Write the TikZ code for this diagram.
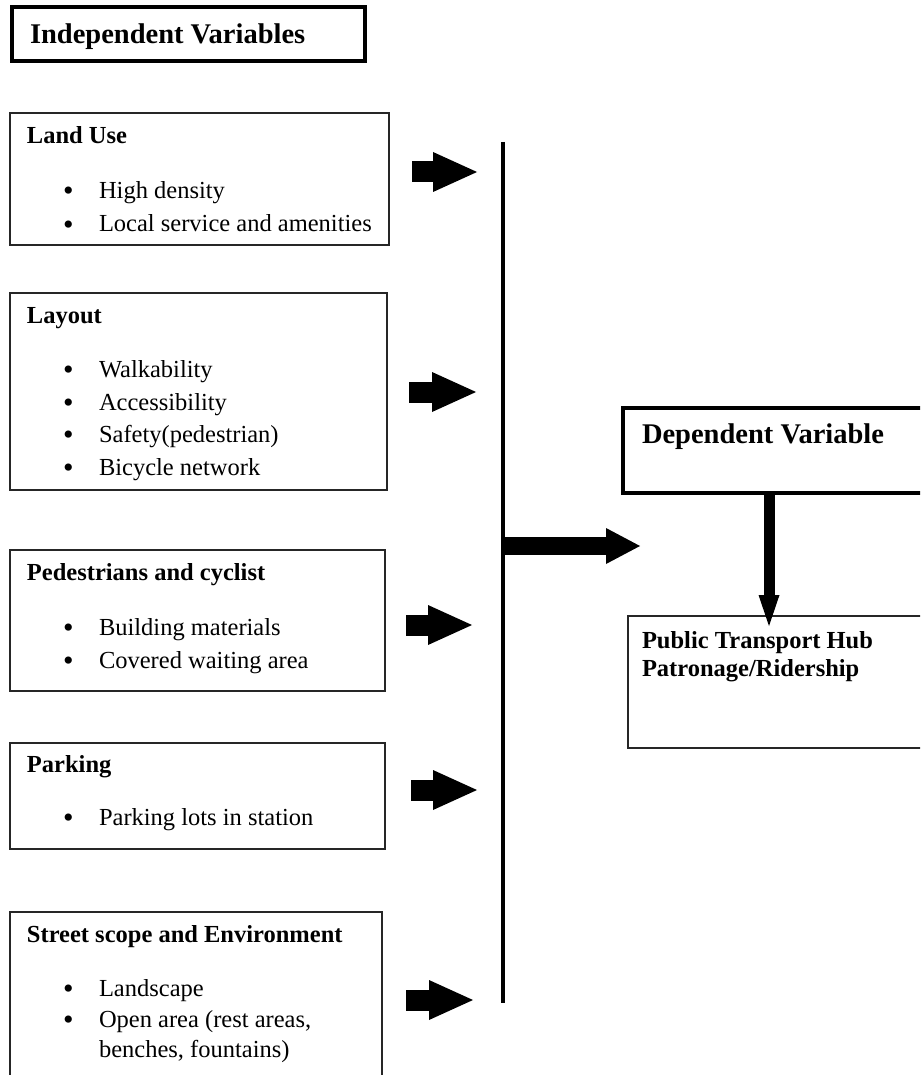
\documentclass[tikz,border=0pt]{standalone}
\usepackage{fontspec}
\setmainfont{Liberation Serif}
\usetikzlibrary{arrows.meta}
\begin{document}
\begin{tikzpicture}[x=1pt,y=-1pt,
  box/.style={draw=black!85, line width=1.5pt, inner sep=0pt, outer sep=0pt, anchor=north west},
  thickbox/.style={draw=black, line width=4pt, inner sep=0pt, outer sep=0pt, anchor=north west},
  txt/.style={anchor=base west, inner sep=0pt, outer sep=0pt, font=\fontsize{24.5}{29}\selectfont},
  dot/.style={anchor=base west, inner sep=0pt, outer sep=0pt, yshift=-2pt, font=\fontsize{30}{30}\selectfont},
  hd/.style={anchor=base west, inner sep=0pt, outer sep=0pt, font=\fontsize{24.5}{29}\selectfont\bfseries},
  bighd/.style={anchor=base west, inner sep=0pt, outer sep=0pt, font=\fontsize{28.5}{33}\selectfont\bfseries},
  blk/.style={line width=21pt, -{Triangle[length=44pt,width=40pt,line width=0pt]}},
]
\path[use as bounding box] (0,0) rectangle (920,1075);
\fill[white] (0,0) rectangle (920,1075);
\clip (0,0) rectangle (920,1075);

% title
\node[thickbox, minimum width=353, minimum height=54] (ivbox) at (12,7) {};
\node[bighd] (ivtxt) at (30,44) {Independent Variables};

% box 1
\node[box, minimum width=379, minimum height=132] (b1) at (10,113) {};
\node[hd] (b1h) at (27,144) {Land Use};
\node[dot] (b1d1) at (63,199) {•};
\node[txt] (b1t1) at (99,199) {High density};
\node[dot] (b1d2) at (63,232) {•};
\node[txt] (b1t2) at (99,232) {Local service and amenities};

% box 2
\node[box, minimum width=377, minimum height=197] (b2) at (10,293) {};
\node[hd] (b2h) at (27,323) {Layout};
\node[dot] (b2d1) at (63,377) {•};
\node[txt] (b2t1) at (99,377) {Walkability};
\node[dot] (b2d2) at (63,410) {•};
\node[txt] (b2t2) at (99,410) {Accessibility};
\node[dot] (b2d3) at (63,442) {•};
\node[txt] (b2t3) at (99,442) {Safety(pedestrian)};
\node[dot] (b2d4) at (63,475) {•};
\node[txt] (b2t4) at (99,475) {Bicycle network};

% box 3
\node[box, minimum width=375, minimum height=141] (b3) at (10,550) {};
\node[hd] (b3h) at (27,580) {Pedestrians and cyclist};
\node[dot] (b3d1) at (63,635) {•};
\node[txt] (b3t1) at (99,635) {Building materials};
\node[dot] (b3d2) at (63,668) {•};
\node[txt] (b3t2) at (99,668) {Covered waiting area};

% box 4
\node[box, minimum width=375, minimum height=106] (b4) at (10,743) {};
\node[hd] (b4h) at (27,772) {Parking};
\node[dot] (b4d1) at (63,825) {•};
\node[txt] (b4t1) at (99,825) {Parking lots in station};

% box 5
\node[box, minimum width=372, minimum height=200] (b5) at (10,912) {};
\node[hd] (b5h) at (27,942) {Street scope and Environment};
\node[dot] (b5d1) at (63,996) {•};
\node[txt] (b5t1) at (99,996) {Landscape};
\node[dot] (b5d2) at (63,1027) {•};
\node[txt] (b5t2) at (99,1027) {Open area (rest areas,};
\node[txt] (b5t3) at (99,1057) {benches, fountains)};

% dependent
\node[thickbox, minimum width=320, minimum height=85] (dep) at (623,408) {};
\node[bighd] (deptxt) at (642,443) {Dependent Variable};
\node[box, minimum width=310, minimum height=132] (hub) at (628,616) {};
\node[hd] (hubt1) at (642,648) {Public Transport Hub};
\node[hd] (hubt2) at (642,676) {Patronage/Ridership};

% vertical bar
\coordinate (vtop) at (503,142);
\coordinate (vbot) at (503,1003);
\draw[line width=4pt] (vtop) -- (vbot);

% small block arrows
\coordinate (a1s) at (412,172); \coordinate (a1e) at (477,172);
\coordinate (a2s) at (409,392); \coordinate (a2e) at (476,392);
\coordinate (a3s) at (406,625); \coordinate (a3e) at (472,625);
\coordinate (a4s) at (411,790); \coordinate (a4e) at (477,790);
\coordinate (a5s) at (406,1000); \coordinate (a5e) at (473,1000);
\draw[blk] (a1s) -- (a1e);
\draw[blk] (a2s) -- (a2e);
\draw[blk] (a3s) -- (a3e);
\draw[blk] (a4s) -- (a4e);
\draw[blk] (a5s) -- (a5e);

% main arrow
\coordinate (hs) at (502,546);
\coordinate (he) at (640,546);
\draw[line width=18pt, -{Triangle[length=34pt,width=36pt,line width=0pt]}] (hs) -- (he);

% down arrow
\draw[line width=11pt, -{Triangle[length=31pt,width=21pt,line width=0pt]}]
  ([xshift=146pt]dep.south west) -- ([xshift=141pt,yshift=-10pt]hub.north west);
\end{tikzpicture}
\end{document}
